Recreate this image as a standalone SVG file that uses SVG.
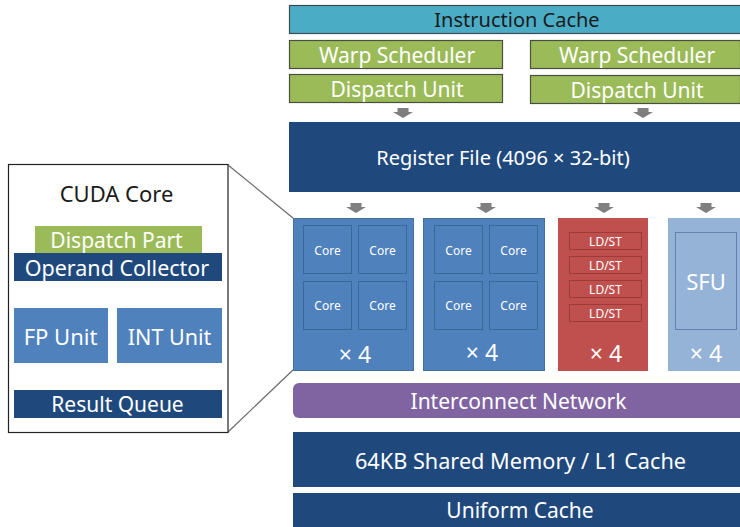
<svg xmlns="http://www.w3.org/2000/svg" width="740" height="527" viewBox="0 0 740 527">
<defs>
<style>
text{font-family:"Noto Sans","Open Sans","DejaVu Sans",sans-serif;text-anchor:middle;dominant-baseline:central;fill:#ffffff}
.dark{fill:#1a1a1a}
.ic{fill:#4BACC6;stroke:#3c4b50;stroke-width:1.2}
.gr{fill:#9BBB59;stroke:#4a5040;stroke-width:1.2}
.db{fill:#1F497D}
.mb{fill:#4F81BD;stroke:#41719c;stroke-width:1}
.core{fill:#4F81BD;stroke:#3a6899;stroke-width:1}
.rd{fill:#C0504D}
.ldst{fill:#C0504D;stroke:#9c3c3a;stroke-width:1}
.lb{fill:#95B3D7}
.sfu{fill:#95B3D7;stroke:#5f82b3;stroke-width:1}
.pu{fill:#8064A2}
.arr{fill:#7F7F7F}
.ln{stroke:#6a6a6a;stroke-width:1.2;fill:none}
</style>
<path id="ar" d="M-5.5,0 H5.5 V4 H10 L0,10 L-10,4 H-5.5 Z"/>
</defs>

<g id="instruction-cache">
<rect class="ic" x="289.5" y="5.5" width="452" height="28"/>
<text class="dark" x="517" y="19.5" font-size="20">Instruction Cache</text>
</g>
<g id="warp-scheduler-1">
<rect class="gr" x="289.5" y="40.5" width="213" height="28"/>
<text x="397" y="54.5" font-size="21">Warp Scheduler</text>
</g>
<g id="warp-scheduler-2">
<rect class="gr" x="530.5" y="40.5" width="210" height="28"/>
<text x="637" y="54.5" font-size="21">Warp Scheduler</text>
</g>
<g id="dispatch-unit-1">
<rect class="gr" x="289.5" y="74.5" width="213" height="28"/>
<text x="397" y="88.5" font-size="21">Dispatch Unit</text>
</g>
<g id="dispatch-unit-2">
<rect class="gr" x="530.5" y="75.5" width="210" height="28"/>
<text x="637" y="89.5" font-size="21">Dispatch Unit</text>
</g>

<g id="connectors">
<use href="#ar" class="arr" x="403" y="108"/>
<use href="#ar" class="arr" x="643" y="108"/>
<use href="#ar" class="arr" x="356" y="203"/>
<use href="#ar" class="arr" x="486" y="203"/>
<use href="#ar" class="arr" x="604" y="203"/>
<use href="#ar" class="arr" x="706" y="203"/>
<path class="ln" d="M228,165 L293,218"/>
<path class="ln" d="M228,432 L293,370"/>
</g>

<g id="register-file">
<rect class="db" x="289" y="122" width="451" height="70"/>
<text x="503" y="157" font-size="20">Register File (4096 × 32-bit)</text>
</g>

<g id="core-group-1">
<rect class="mb" x="293.5" y="218.5" width="120" height="152"/>
<rect class="core" x="303.5" y="225.5" width="48" height="48"/>
<rect class="core" x="358.5" y="225.5" width="48" height="48"/>
<rect class="core" x="303.5" y="281.5" width="48" height="48"/>
<rect class="core" x="358.5" y="281.5" width="48" height="48"/>
<text x="327.5" y="250" font-size="12">Core</text>
<text x="382.5" y="250" font-size="12">Core</text>
<text x="327.5" y="305" font-size="12">Core</text>
<text x="382.5" y="305" font-size="12">Core</text>
<text x="355" y="354" font-size="23">× 4</text>
</g>

<g id="core-group-2">
<rect class="mb" x="423.5" y="218.5" width="121" height="152"/>
<rect class="core" x="434.5" y="225.5" width="48" height="48"/>
<rect class="core" x="489.5" y="225.5" width="48" height="48"/>
<rect class="core" x="434.5" y="281.5" width="48" height="48"/>
<rect class="core" x="489.5" y="281.5" width="48" height="48"/>
<text x="458.5" y="250" font-size="12">Core</text>
<text x="513.5" y="250" font-size="12">Core</text>
<text x="458.5" y="305" font-size="12">Core</text>
<text x="513.5" y="305" font-size="12">Core</text>
<text x="482" y="352" font-size="23">× 4</text>
</g>

<g id="ldst-group">
<rect class="rd" x="558" y="218" width="90" height="153"/>
<rect class="ldst" x="569.5" y="232.5" width="72" height="17"/>
<rect class="ldst" x="569.5" y="256.5" width="72" height="17"/>
<rect class="ldst" x="569.5" y="280.5" width="72" height="17"/>
<rect class="ldst" x="569.5" y="304.5" width="72" height="17"/>
<text x="605.5" y="241" font-size="12">LD/ST</text>
<text x="605.5" y="265" font-size="12">LD/ST</text>
<text x="605.5" y="289" font-size="12">LD/ST</text>
<text x="605.5" y="313" font-size="12">LD/ST</text>
<text x="606" y="353" font-size="23">× 4</text>
</g>

<g id="sfu-group">
<rect class="lb" x="668" y="218" width="72" height="153"/>
<rect class="sfu" x="675.5" y="232.5" width="61" height="97"/>
<text x="706" y="281" font-size="22">SFU</text>
<text x="706" y="353" font-size="23">× 4</text>
</g>

<g id="interconnect-network">
<rect class="pu" x="293" y="383" width="460" height="35" rx="6"/>
<text x="518.5" y="401" font-size="21">Interconnect Network</text>
</g>
<g id="shared-memory">
<rect class="db" x="293" y="432" width="447" height="55"/>
<text x="520.5" y="460" font-size="21.7">64KB Shared Memory / L1 Cache</text>
</g>
<g id="uniform-cache">
<rect class="db" x="293" y="493" width="447" height="34"/>
<text x="520" y="510" font-size="21">Uniform Cache</text>
</g>

<g id="cuda-core-detail">
<rect x="8.5" y="164.5" width="219.5" height="268" fill="#ffffff" stroke="#222222" stroke-width="1.2"/>
<text class="dark" x="116.5" y="193" font-size="22">CUDA Core</text>
</g>
<g id="dispatch-part">
<rect fill="#9BBB59" x="35" y="226" width="167" height="27"/>
<text x="116.5" y="240" font-size="21">Dispatch Part</text>
</g>
<g id="operand-collector">
<rect class="db" x="14" y="253" width="208" height="28"/>
<text x="117" y="267" font-size="21.5">Operand Collector</text>
</g>
<g id="fp-unit">
<rect fill="#4F81BD" x="14" y="308" width="94" height="55"/>
<text x="60.5" y="336" font-size="22">FP Unit</text>
</g>
<g id="int-unit">
<rect fill="#4F81BD" x="117" y="308" width="105" height="55"/>
<text x="169.5" y="336" font-size="21.5">INT Unit</text>
</g>
<g id="result-queue">
<rect class="db" x="14" y="390" width="208" height="28"/>
<text x="117.5" y="404" font-size="21">Result Queue</text>
</g>
</svg>
